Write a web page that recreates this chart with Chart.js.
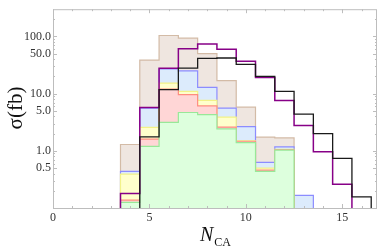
<!DOCTYPE html>
<html>
<head>
<meta charset="utf-8">
<script src="https://cdn.jsdelivr.net/npm/chart.js@4"></script>
<style>
  html, body { margin: 0; padding: 0; background: #fff; }
  #wrap { width: 382px; height: 247px; }
</style>
</head>
<body>
<div id="wrap"><canvas id="chart" width="382" height="247"></canvas></div>
<script>
// bin centres (N_CA) and cross sections in fb, one value per bin
const bins = [4, 5, 6, 7, 8, 9, 10, 11, 12, 13, 14, 15, 16];

const tanVals    = [1.29, 38.7, 104, 93.5, 50, 16.9, 5.8, 1.74, 1.68, null, null, null, null];
const blueVals   = [0.436, 5.6, 27, 25, 12.9, 5.57, 2.66, 0.63, 1.17, 0.166, null, null, null];
const yellowVals = [0.39, 2.58, 15.3, 11, 7.6, 3.9, 1.5, 0.5, 1.06, null, null, null, null];
const redVals    = [0.137, 1.6, 12, 9.6, 6.1, 2.6, 1.47, 0.46, 1.04, null, null, null, null];
const greenVals  = [0.125, 1.2, 3.15, 4.68, 4.3, 2.43, 1.39, 0.436, 1.03, null, null, null, null];
const purpleVals = [0.18, 5.7, 27.7, 61, 74, 60, 37, 19.2, 7.6, 2.76, 0.96, 0.26, null];
const blackVals  = [null, 1.75, 11.8, 28, 41.5, 42, 32.5, 20, 11, 4.4, 2.0, 0.74, 0.156];

const yTickVals = [0.5, 1, 5, 10, 50, 100];
const xTickVals = [0, 5, 10, 15];

const Y_MIN = 0.1, Y_MAX = 300;
const SERIF = '"Liberation Serif", "DejaVu Serif", serif';

// turn per-bin values into step outline points (left edge of each bin + closing edge)
function histPoints(vals) {
    const pts = [];
    let first = -1, last = -1;
    vals.forEach((v, i) => { if (v != null) { if (first < 0) first = i; last = i; } });
    pts.push({ x: bins[first] - 0.5, y: Y_MIN });
    for (let i = first; i <= last; i++) pts.push({ x: bins[i] - 0.5, y: vals[i] });
    pts.push({ x: bins[last] + 0.5, y: vals[last] });
    pts.push({ x: bins[last] + 0.5, y: Y_MIN });
    return pts;
}

function histSet(vals, edge, fill, order, width) {
    return {
        data: histPoints(vals),
        borderColor: edge,
        backgroundColor: fill || 'transparent',
        fill: fill ? 'start' : false,
        borderWidth: width,
        stepped: 'before',
        pointRadius: 0,
        order: order
    };
}

// frame, inward ticks and axis titles
const framePlugin = {
    id: 'frame',
    afterDraw(chart) {
        const { ctx, chartArea: a, scales } = chart;
        const xs = scales.x, ys = scales.y;
        ctx.save();
        ctx.strokeStyle = '#bdbdbd';
        ctx.lineWidth = 1;
        ctx.strokeRect(a.left + 0.5, a.top + 0.5, a.right - a.left - 1, a.bottom - a.top);

        ctx.beginPath();
        for (let i = 0; i <= 16; i++) {
            const px = Math.round(xs.getPixelForValue(i)) + 0.5;
            const len = i % 5 === 0 ? 4 : 2;
            ctx.moveTo(px, a.bottom); ctx.lineTo(px, a.bottom - len);
            ctx.moveTo(px, a.top); ctx.lineTo(px, a.top + len);
        }
        const decades = [0.1, 1, 10, 100];
        decades.forEach(d => {
            for (let m = 1; m <= 9; m++) {
                const v = d * m;
                if (v <= Y_MIN || v >= Y_MAX) continue;
                const py = Math.round(ys.getPixelForValue(v)) + 0.5;
                const len = (m === 1 || m === 5) ? 4 : 2;
                ctx.moveTo(a.left, py); ctx.lineTo(a.left + len, py);
                ctx.moveTo(a.right, py); ctx.lineTo(a.right - len, py);
            }
        });
        ctx.stroke();

        ctx.fillStyle = '#111';
        // y title
        ctx.save();
        ctx.translate(16, 108);
        ctx.rotate(-Math.PI / 2);
        ctx.font = '21px ' + SERIF;
        ctx.textAlign = 'center';
        ctx.textBaseline = 'middle';
        ctx.fillText('\u03c3(fb)', 0, 0);
        ctx.restore();

        // x title N_CA
        ctx.font = 'italic 20px ' + SERIF;
        ctx.textAlign = 'left';
        ctx.textBaseline = 'alphabetic';
        ctx.fillText('N', 200, 241);
        const nw = ctx.measureText('N').width;
        ctx.font = '12px ' + SERIF;
        ctx.fillText('CA', 200 + nw + 1, 246);
        ctx.restore();
    }
};

new Chart(document.getElementById('chart'), {
    type: 'line',
    data: {
        datasets: [
            histSet(blackVals, '#1a1a1a', null, 0, 1.3),
            histSet(purpleVals, '#870087', null, 1, 1.5),
            histSet(greenVals, '#98e898', '#ddffdd', 2, 1.2),
            histSet(redVals, '#ff8c80', '#ffd6d6', 3, 1.2),
            histSet(yellowVals, '#f2f288', '#ffffcc', 4, 1.2),
            histSet(blueVals, '#8c8cff', '#dcebfc', 5, 1.2),
            histSet(tanVals, '#d3bba6', '#efe6e0', 6, 1.2)
        ]
    },
    options: {
        responsive: false,
        animation: false,
        layout: { padding: { top: 6, right: 5, left: 0, bottom: 0 } },
        plugins: { legend: { display: false }, tooltip: { enabled: false } },
        scales: {
            x: {
                type: 'linear',
                min: 0,
                max: 16.8,
                grid: { display: false, drawTicks: false },
                border: { display: false },
                afterBuildTicks: s => { s.ticks = xTickVals.map(v => ({ value: v })); },
                afterFit: s => { s.height = 39; },
                ticks: {
                    color: '#333',
                    padding: 3,
                    maxRotation: 0,
                    font: { family: SERIF, size: 12 },
                    callback: v => String(v)
                }
            },
            y: {
                type: 'logarithmic',
                min: Y_MIN,
                max: Y_MAX,
                grid: { display: false, drawTicks: false },
                border: { display: false },
                afterBuildTicks: s => { s.ticks = yTickVals.map(v => ({ value: v })); },
                afterFit: s => { s.width = 53; },
                ticks: {
                    color: '#333',
                    padding: 2,
                    font: { family: SERIF, size: 12 },
                    callback: v => Number(v).toFixed(1)
                }
            }
        }
    },
    plugins: [framePlugin]
});
</script>
</body>
</html>
